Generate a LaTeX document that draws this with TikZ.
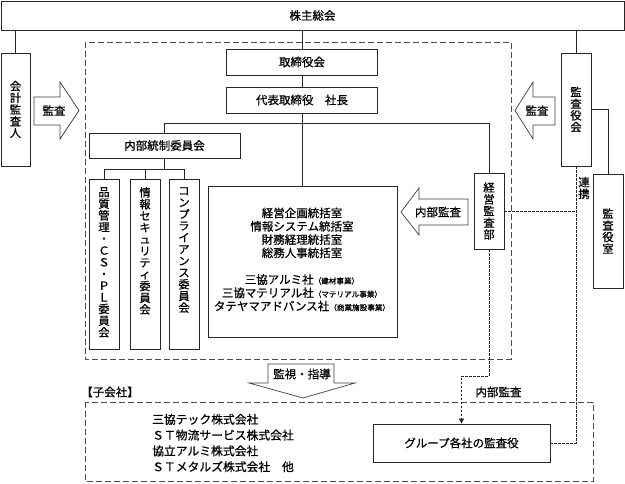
\documentclass[tikz,border=0pt]{standalone}
\usepackage{fontspec}
\setmainfont{Noto Sans CJK JP}[FakeBold=0.7]
\usetikzlibrary{arrows.meta}
\newcommand\fsmain{\fontsize{11.5}{13.3}\selectfont}
\newcommand\fssub{\fontsize{11.8}{15.8}\selectfont}
\newcommand\fsvert{\fontsize{11.3}{11.7}\selectfont}
\newcommand\fssmall{\fontsize{7.6}{8}\selectfont}
\begin{document}
\begin{tikzpicture}[x=1pt,y=-1pt,
  box/.style={draw=black!85, line width=0.8pt, fill=white, inner sep=0pt, font=\fsmain, align=center},
  vbox/.style={box, font=\fsvert},
  vtext/.style={font=\fsvert, align=center, inner sep=0pt},
  txt/.style={font=\fsmain, inner sep=0pt},
  link/.style={draw=black!85, line width=0.8pt},
  dashbox/.style={draw=black!70, line width=0.7pt, dash pattern=on 6pt off 3pt},
  dotline/.style={draw=black!85, line width=0.7pt, dash pattern=on 2.5pt off 1.5pt},
  blockarrow/.style={draw=black!75, line width=0.7pt, fill=white, line join=miter}]
\useasboundingbox (0,0) rectangle (625,483);
\fill[white] (0,0) rectangle (625,483);

% dashed group frames
\draw[dashbox] (85,42) rectangle (511,359);
\draw[dashbox] (85,402) rectangle (593,481);

% boxes
\node[box, minimum width=623pt, minimum height=29pt] (top) at (312.5,15.5) {株主総会};
\node[vbox, minimum width=29pt, minimum height=113pt] (kaikei) at (15.5,109.5) {会\\計\\監\\査\\人};
\node[vbox, minimum width=30pt, minimum height=113pt] (kansakai) at (576,109.5) {監\\査\\役\\会};
\node[box, minimum width=151pt, minimum height=26pt] (tori) at (302,62) {取締役会};
\node[box, minimum width=151pt, minimum height=26pt] (daihyo) at (302,100) {代表取締役　社長};
\node[box, minimum width=151pt, minimum height=25pt] (naibu) at (164.5,145.5) {内部統制委員会};
\node[box, minimum width=30pt, minimum height=170pt] (v1) at (104,264) {};
\node[box, minimum width=30pt, minimum height=170pt] (v2) at (145,264) {};
\node[box, minimum width=30pt, minimum height=170pt] (v3) at (184,264) {};
\node[vtext, anchor=north] (v1t) at (104,187) {品\\質\\管\\理\\・\\Ｃ\\Ｓ\\・\\Ｐ\\Ｌ\\委\\員\\会};
\node[vtext, anchor=north] (v2t) at (145,187) {情\\報\\セ\\キ\\ュ\\リ\\テ\\ィ\\委\\員\\会};
\node[vtext, anchor=north] (v3t) at (184,187) {コ\\ン\\プ\\ラ\\イ\\ア\\ン\\ス\\委\\員\\会};
\node[box, minimum width=189pt, minimum height=151pt] (big) at (302.5,261.5) {};
\node[txt, align=center] (bigt) at (302,259.5) {経営企画統括室\\情報システム統括室\\財務経理統括室\\総務人事統括室\\[13.3pt]
三協アルミ社{\fssmall（建材事業）}\\三協マテリアル社{\fssmall（マテリアル事業）}\\タテヤマアドバンス社{\fssmall（商業施設事業）}};
\node[vbox, minimum width=30pt, minimum height=76pt] (keiei) at (489,211) {経\\営\\監\\査\\部};
\node[vbox, minimum width=30pt, minimum height=114pt] (kansashitsu) at (608,231) {監\\査\\役\\室};
\node[box, minimum width=177pt, minimum height=38pt] (group) at (461.5,443) {グループ各社の監査役};

% solid connectors
\coordinate (h1) at (164.5,123);
\coordinate (h2) at (164.5,169);
\draw[link] (kaikei.north) -- (kaikei.north |- top.south);
\draw[link] (kansakai.north) -- (kansakai.north |- top.south);
\draw[link] (tori.north) -- (tori.north |- top.south);
\draw[link] (tori.south) -- (daihyo.north);
\draw[link] (daihyo.south) -- (big.north -| daihyo.south);
\draw[link] (naibu.north) -- (h1) -| (keiei.north);
\draw[link] (naibu.south) -- (h2);
\draw[link] (v1.north) -- (v1.north |- h2) -- (v3.north |- h2) -- (v3.north);
\draw[link] (v2.north) -- (v2.north |- h2);
\draw[link] (kansakai.east) -| (kansashitsu.north);

% dotted connectors
\coordinate (d1) at (489,376);
\draw[dotline] (keiei.east) -- (keiei.east -| kansakai.south);
\draw[dotline] (kansakai.south) |- (group.east);
\draw[dotline, -{Triangle[length=5pt,width=5pt]}] (keiei.south) -- (d1) -| (group.north);

% block arrows
\draw[blockarrow] (34,97) -- (60,97) -- (60,82) -- (79,110.5) -- (60,139) -- (60,125) -- (34,125) -- cycle;
\node[txt] (a1) at (54,110.5) {監査};
\draw[blockarrow] (555,97) -- (533,97) -- (533,82) -- (515,110.5) -- (533,139) -- (533,125) -- (555,125) -- cycle;
\node[txt] (a2) at (537,110.5) {監査};
\draw[blockarrow] (468,199) -- (419,199) -- (419,188) -- (401,212) -- (419,235) -- (419,225) -- (468,225) -- cycle;
\node[txt] (a3) at (438,212) {内部監査};
\draw[blockarrow] (268,364) -- (334,364) -- (334,383) -- (355,383) -- (303,398) -- (249,383) -- (268,383) -- cycle;
\node[txt] (a4) at (302,374) {監視・指導};

% labels
\node[vtext] (renkei) at (584,188) {連\\携};
\node[txt] (naibulbl) at (498.5,392) {内部監査};
\node[txt] (kogaisha) at (110,392) {【子会社】};
\node[txt, font=\fssub, align=left, anchor=west] (subs) at (152,443) {三協テック株式会社\\ＳＴ物流サービス株式会社\\協立アルミ株式会社\\ＳＴメタルズ株式会社　他};
\end{tikzpicture}
\end{document}
